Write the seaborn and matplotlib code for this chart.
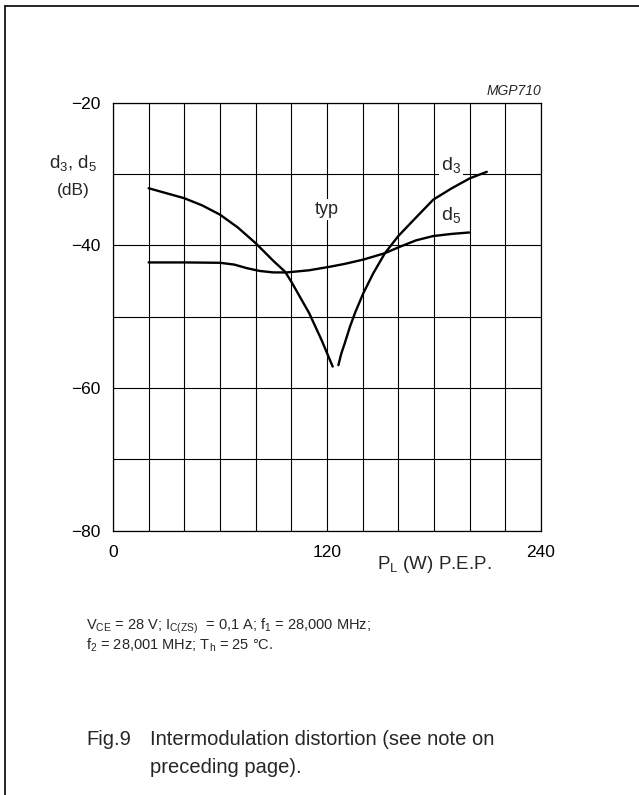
"""
Fig.9 - Intermodulation distortion as a function of load power.
d3 and d5 (dB) versus P_L (W) P.E.P.
"""

import pandas as pd
import seaborn as sns
import matplotlib.pyplot as plt
from matplotlib.lines import Line2D


# ---------------------------
# Data
# ---------------------------

d3_low_power = [20, 30, 40, 50, 60, 70, 80, 90, 96.5, 100, 110, 117, 123.2]
d3_low_db = [-32.0, -32.7, -33.4, -34.4, -35.7, -37.5, -39.7, -42.2, -43.7,
             -45.1, -49.5, -53.3, -57.0]

d3_high_power = [126.4, 128, 130, 132.9, 136, 140.4, 146, 152.5, 160, 168.4,
                 179.6, 190, 200.2, 209.6]
d3_high_db = [-56.8, -55.2, -53.7, -51.4, -49.3, -46.7, -43.9, -41.1, -38.7,
              -36.5, -33.6, -32.0, -30.6, -29.7]

d5_power = [20, 40, 60, 68, 75, 82.4, 90, 97.4, 110, 121.7, 130, 140.4,
            152.5, 160.9, 170, 179.6, 190, 199.8]
d5_db = [-42.4, -42.4, -42.45, -42.7, -43.2, -43.6, -43.8, -43.8, -43.5,
         -43.0, -42.6, -42.0, -41.1, -40.2, -39.3, -38.7, -38.4, -38.2]

x_ticks = list(range(0, 241, 20))
x_tick_labels = ["0", "", "", "", "", "", "120", "", "", "", "", "", "240"]
y_ticks = list(range(-80, -19, 10))
y_tick_labels = ["\u221280", "", "\u221260", "", "\u221240", "", "\u221220"]


# ---------------------------
# Plot style
# ---------------------------

sns.set_theme(style="white")
plt.rcParams["font.family"] = ["Liberation Sans", "DejaVu Sans"]
plt.rcParams["mathtext.fontset"] = "custom"
plt.rcParams["mathtext.rm"] = "Liberation Sans"
plt.rcParams["mathtext.it"] = "Liberation Sans:italic"


# ---------------------------
# Build table
# ---------------------------

curves = pd.concat([
    pd.DataFrame({"P": d3_low_power, "d": d3_low_db, "curve": "d3 low"}),
    pd.DataFrame({"P": d3_high_power, "d": d3_high_db, "curve": "d3 high"}),
    pd.DataFrame({"P": d5_power, "d": d5_db, "curve": "d5"}),
], ignore_index=True)


# ---------------------------
# Create figure
# ---------------------------

fig = plt.figure(figsize=(6.39, 7.95), dpi=100)
ax = fig.add_axes([0.1768, 0.3325, 0.6698, 0.5384])

for name in ["d3 low", "d3 high", "d5"]:
    sns.lineplot(
        data=curves[curves["curve"] == name],
        x="P", y="d",
        ax=ax, color="black", linewidth=1.7,
        sort=False, estimator=None, legend=False, zorder=3
    )

ax.set_xlim(0, 240)
ax.set_ylim(-80, -20)
ax.set_xticks(x_ticks)
ax.set_xticklabels(x_tick_labels)
ax.set_yticks(y_ticks)
ax.set_yticklabels(y_tick_labels)
ax.set_xlabel("")
ax.set_ylabel("")

ax.grid(True, color="black", linewidth=0.8)
ax.set_axisbelow(True)
for spine in ax.spines.values():
    spine.set_visible(True)
    spine.set_color("black")
    spine.set_linewidth(0.9)

ax.tick_params(axis="both", length=0, labelsize=12.5, colors="black")
ax.tick_params(axis="x", pad=10)
ax.tick_params(axis="y", pad=9)


# ---------------------------
# Curve labels
# ---------------------------

label_box = dict(facecolor="white", edgecolor="none", pad=1.5)
ax.text(189.5, -29.5, r"$\mathregular{d_3}$", fontsize=14, ha="center",
        va="baseline", bbox=label_box, zorder=2)
ax.text(189.5, -36.45, r"$\mathregular{d_5}$", fontsize=14, ha="center",
        va="baseline", bbox=label_box, zorder=2)
ax.text(120, -35.0, "typ", fontsize=13, ha="center", va="center",
        bbox=label_box, zorder=2)


# ---------------------------
# Axis titles and notes
# ---------------------------

fig.text(0.114, 0.7883, r"$\mathregular{d_3}$, $\mathregular{d_5}$",
         fontsize=13.5, ha="center", va="baseline")
fig.text(0.114, 0.7547, "(dB)", fontsize=12.5, ha="center", va="baseline")
fig.text(0.5895, 0.2839, r"$\mathregular{P_L}$ (W) P.E.P.", fontsize=13.5,
         ha="left", va="baseline")
fig.text(0.8466, 0.8805, "MGP710", fontsize=10, style="italic",
         ha="right", va="baseline")

fig.text(0.135, 0.2075,
         r"V$\mathregular{_{CE}}$ = 28 V; I$\mathregular{_{C(ZS)}}$  = 0,1 A; "
         r"f$\mathregular{_1}$ = 28,000 MHz;",
         fontsize=10.5, ha="left", va="baseline")
fig.text(0.135, 0.1835,
         r"f$\mathregular{_2}$ = 28,001 MHz; T$\mathregular{_h}$ = 25 °C.",
         fontsize=10.5, ha="left", va="baseline")
fig.text(0.135, 0.063, "Fig.9", fontsize=14.5, ha="left", va="baseline")
fig.text(0.235, 0.063, "Intermodulation distortion (see note on",
         fontsize=14.5, ha="left", va="baseline")
fig.text(0.235, 0.0277, "preceding page).", fontsize=14.5,
         ha="left", va="baseline")

# outer frame (top and left edges)
fig.add_artist(Line2D([4.5 / 639, 1.0], [1 - 6 / 795, 1 - 6 / 795],
                      transform=fig.transFigure, color="black", linewidth=1.2))
fig.add_artist(Line2D([4.5 / 639, 4.5 / 639], [0.0, 1 - 6 / 795],
                      transform=fig.transFigure, color="black", linewidth=1.2))

fig.savefig("out.png", dpi=100, facecolor="white")
